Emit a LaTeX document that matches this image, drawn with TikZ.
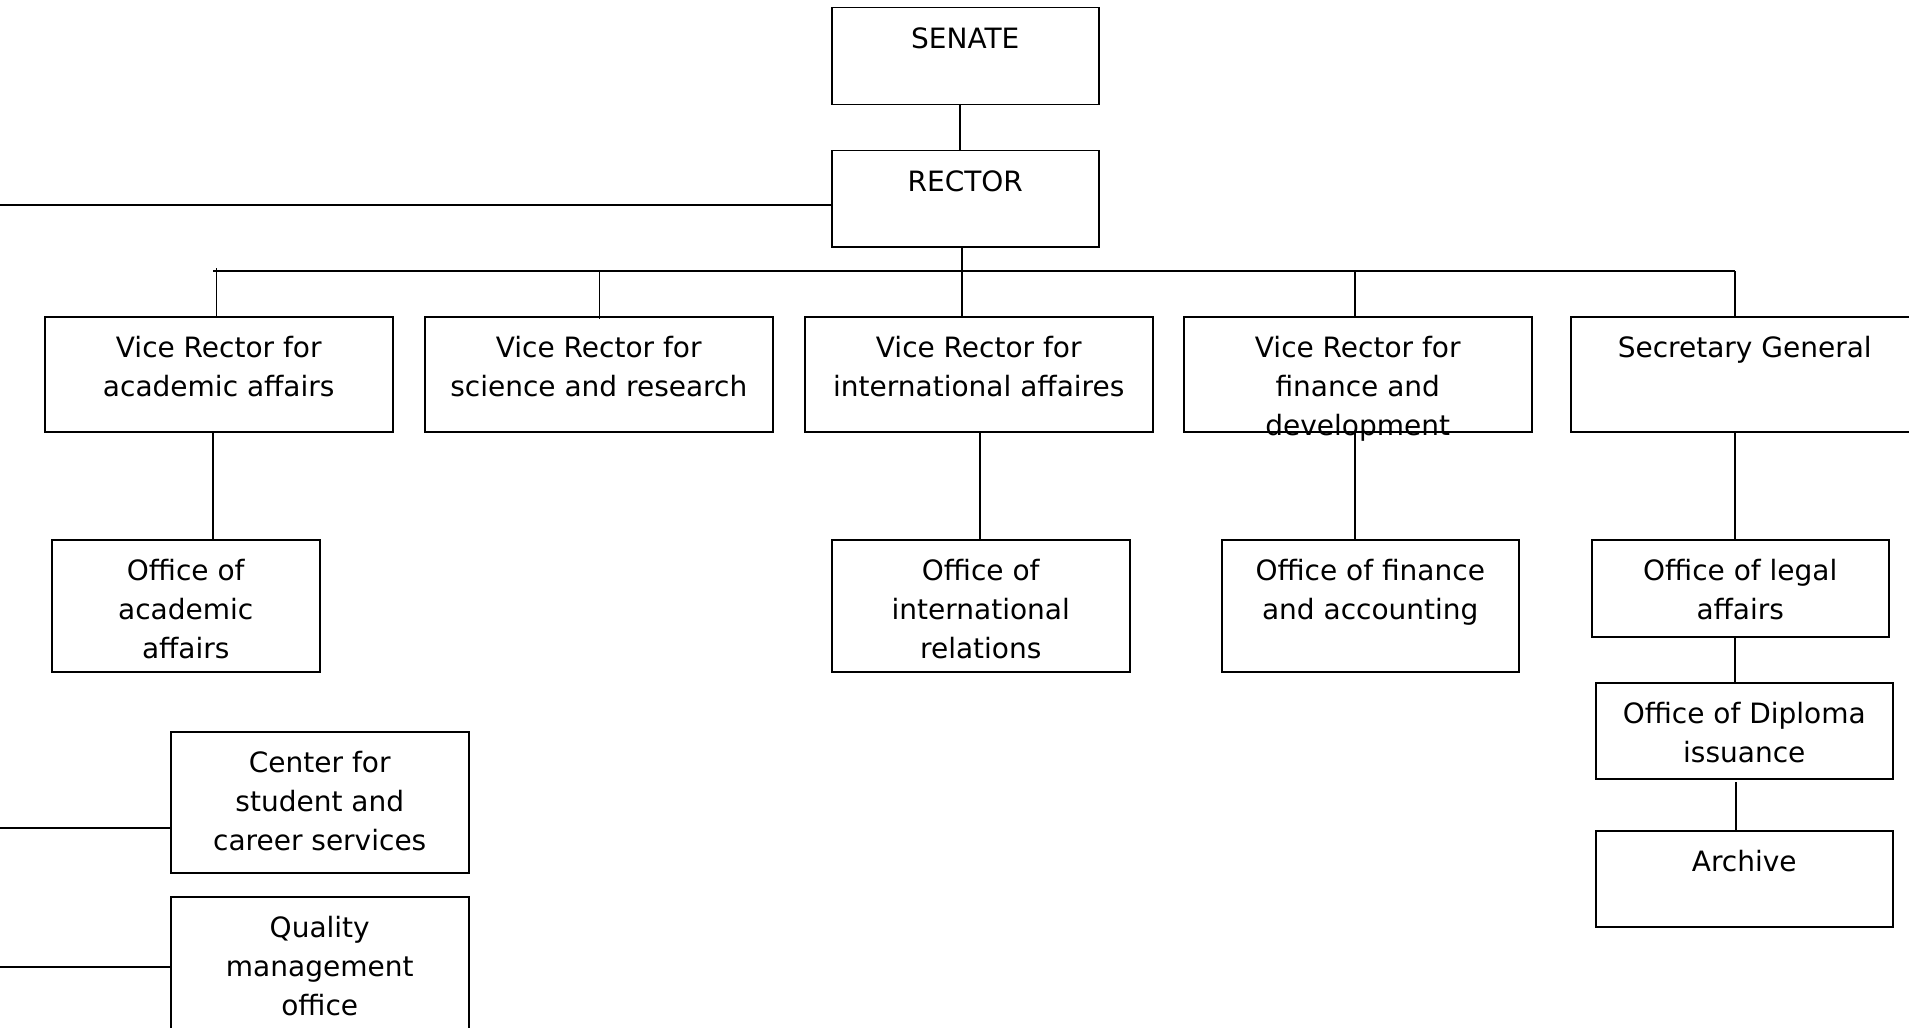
\documentclass[tikz,border=0pt]{standalone}
\usepackage{fontspec}
\setmainfont{DejaVu Sans}
\tikzset{
  box/.style={draw, line width=0.75pt, inner sep=0pt, fill=white},
  txt/.style={font=\fontsize{14}{19.5}\selectfont, align=center, inner sep=0pt},
  link/.style={line width=0.75pt}
}
\newcommand\orgbox[6]{%
  \node[box, minimum width={(#4-#2)*0.5pt}, minimum height={(#5-#3)*0.5pt}, anchor=north west] (#1) at (#2,#3) {};
  \node[txt, anchor=north] (#1-t) at ([yshift=-10.1pt]#1.north) {#6};}
\begin{document}
\begin{tikzpicture}[x=0.5pt, y=-0.5pt]
\useasboundingbox (0,0) rectangle (1909,1027);
\clip (0,0) rectangle (1909,1027);
\fill[white] (0,0) rectangle (1909,1027);
\coordinate (lr) at (0,205);
\coordinate (lc) at (0,828);
\coordinate (lq) at (0,967);
\coordinate (bus0) at (213,271);
\coordinate (bus1) at (1735,271);
\coordinate (b1) at (216.7,268);
\coordinate (b2) at (599.3,271);
\coordinate (b3) at (962,271);
\coordinate (b4) at (1355,271);
\coordinate (b5) at (1735,271);
\coordinate (d1) at (213,431);
\coordinate (d3) at (980,431);
\coordinate (d4) at (1355,431);
\coordinate (d5) at (1735,431);
\coordinate (s1) at (960,104);
\coordinate (a1) at (1736,782);
\orgbox{senate}{831}{7}{1098}{104}{SENATE}
\orgbox{rector}{831}{150}{1098}{246}{RECTOR}
\orgbox{vr1}{44}{316}{392}{431}{Vice Rector for\\academic affairs}
\orgbox{vr2}{424}{316}{772}{431}{Vice Rector for\\science and research}
\orgbox{vr3}{804}{316}{1152}{431}{Vice Rector for\\international affaires}
\orgbox{vr4}{1183}{316}{1531}{431}{Vice Rector for\\finance and\\development}
\orgbox{sg}{1570}{316}{1918}{431}{Secretary General}
\orgbox{oacad}{51}{539}{319}{671}{Office of\\academic\\affairs}
\orgbox{ointl}{831}{539}{1129}{671}{Office of\\international\\relations}
\orgbox{ofin}{1221}{539}{1518}{671}{Office of finance\\and accounting}
\orgbox{olegal}{1591}{539}{1888}{636}{Office of legal\\affairs}
\orgbox{odipl}{1595}{682}{1892}{778}{Office of Diploma\\issuance}
\orgbox{arch}{1595}{830}{1892}{926}{Archive}
\orgbox{center}{170}{731}{468}{872}{Center for\\student and\\career services}
\orgbox{quality}{170}{896}{468}{1070}{Quality\\management\\office}
\draw[link] (s1) -- (s1 |- rector.north);
\draw[link] (lr) -- (lr -| rector.west);
\draw[link] (b3 |- rector.south) -- (b3);
\draw[link] (bus0) -- (bus1);
\draw[link] (b1) -- (b1 |- vr1.north);
\draw[link] (b2) -- ([yshift=-1.5pt]b2 |- vr2.north);
\draw[link] (b3) -- (b3 |- vr3.north);
\draw[link] (b4) -- (b4 |- vr4.north);
\draw[link] (b5) -- (b5 |- sg.north);
\draw[link] (d1) -- (d1 |- oacad.north);
\draw[link] (d3) -- (d3 |- ointl.north);
\draw[link] (d4) -- (d4 |- ofin.north);
\draw[link] (d5) -- (d5 |- olegal.north);
\draw[link] (d5 |- olegal.south) -- (d5 |- odipl.north);
\draw[link] (a1) -- (a1 |- arch.north);
\draw[link] (lc) -- (lc -| center.west);
\draw[link] (lq) -- (lq -| quality.west);
\end{tikzpicture}
\end{document}
